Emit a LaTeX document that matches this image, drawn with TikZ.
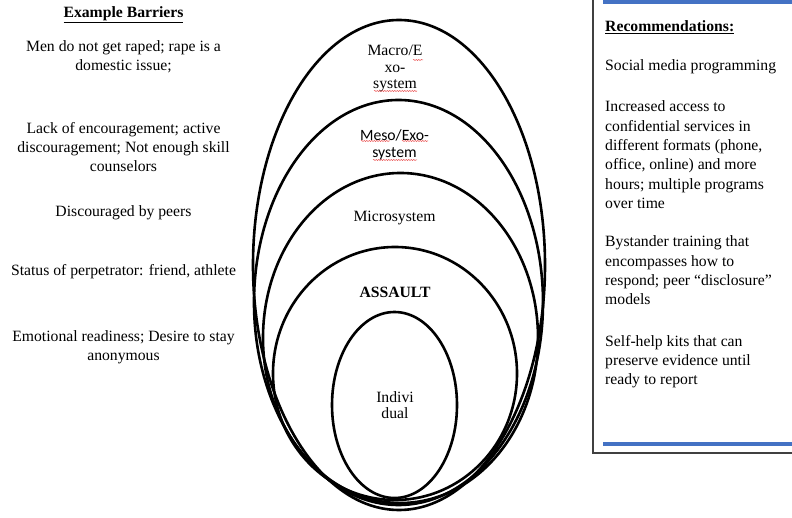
\documentclass[tikz,border=0pt]{standalone}
\usepackage{fontspec}
\setmainfont{Liberation Serif}
\newfontfamily\calibrifont{Carlito}
\usepackage{xcolor}
\definecolor{recblue}{RGB}{68,114,196}
\definecolor{boxgray}{RGB}{64,64,64}
\definecolor{spellred}{RGB}{232,70,70}
\usetikzlibrary{decorations.pathmorphing}

\newcommand{\bodysize}{\fontsize{15.7}{19.3}\selectfont}
\newcommand{\ringsize}{\fontsize{15.7}{16.5}\selectfont}

\begin{document}
\begin{tikzpicture}[x=1pt, y=-1pt,
  ring/.style={draw=black, line width=2.6pt},
  barrier/.style={font=\bodysize, align=center, inner sep=0pt},
  layer/.style={font=\ringsize, align=center, inner sep=0pt},
  rec/.style={font=\bodysize, align=left, anchor=north west, inner sep=0pt},
  squiggle/.style={draw=spellred, line width=0.5pt, decorate,
    decoration={snake, amplitude=0.5pt, segment length=2.5pt}}]
  \useasboundingbox (0,0) rectangle (792,518);

  %% Nested rings, outermost first
  \draw[ring] (399,265) ellipse [x radius=146, y radius=245];
  \draw[ring] (398.5,302.5) ellipse [x radius=144.5, y radius=202.5];
  \draw[ring] (400.5,338) ellipse [x radius=137.5, y radius=165];
  \draw[ring] (395,373.5) ellipse [x radius=122, y radius=126.5];
  \draw[ring] (394.5,405) ellipse [x radius=62.5, y radius=93];

  %% Ring labels
  \node[layer] (macro) at (395,69) {Macro/E\\xo-\\system};
  \node[layer, font=\calibrifont\fontsize{15.7}{17}\selectfont] (meso) at (394.5,144.5) {Meso/Exo-\\system};
  \node[layer] (micro) at (394.5,218) {Microsystem};
  \node[layer, font=\ringsize\bfseries] (assault) at (395,292) {ASSAULT};
  \node[layer] (indiv) at (395,405) {Indivi\\dual};

  %% Spell-check marks
  \draw[squiggle] (413,60) -- (423,60);
  \draw[squiggle] (374,91) -- (417,91);
  \draw[squiggle] (361,141) -- (390,141);
  \draw[squiggle] (402,141) -- (428,141);
  \draw[squiggle] (373,160) -- (417,160);

  %% Example barriers (left column)
  \node[barrier] (bhead) at (123.5,15) {\underline{\textbf{Example Barriers}}};
  \node[barrier] (bmacro) at (123.5,56.5) {Men do not get raped; rape is a\\domestic issue;};
  \node[barrier] (bmeso) at (123.5,147) {Lack of encouragement; active\\discouragement; Not enough skill\\counselors};
  \node[barrier] (bmicro) at (123.5,213) {Discouraged by peers};
  \node[barrier] (bassault) at (123.5,272) {Status of perpetrator: friend, athlete};
  \node[barrier] (bindiv) at (123.5,347) {Emotional readiness; Desire to stay\\anonymous};

  %% Recommendations box (right)
  \draw[boxgray, line width=2pt] (593,-5) -- (593,453) -- (800,453);
  \draw[recblue, line width=4.5pt] (603,2) -- (800,2);
  \draw[recblue, line width=4.5pt] (603,444) -- (800,444);

  \node[rec] (rhead) at (605,20.8) {\underline{\textbf{Recommendations:}}};
  \node[rec] (rmedia) at (605,59.8) {Social media programming};
  \node[rec] (raccess) at (605,100.8) {Increased access to\\confidential services in\\different formats (phone,\\office, online) and more\\hours; multiple programs\\over time};
  \node[rec] (rbystander) at (605,235.8) {Bystander training that\\encompasses how to\\respond; peer “disclosure”\\models};
  \node[rec] (rkits) at (605,334.8) {Self-help kits that can\\preserve evidence until\\ready to report};
\end{tikzpicture}
\end{document}
